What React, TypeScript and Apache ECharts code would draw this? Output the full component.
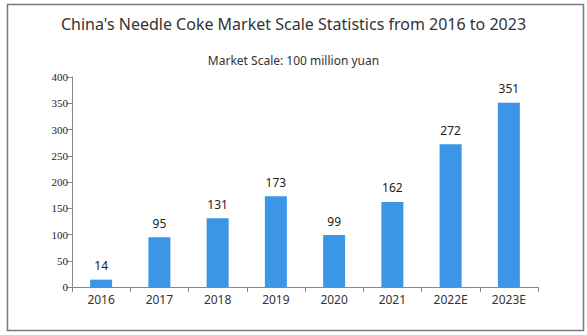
import React, { useEffect, useRef } from "react";
import * as echarts from "echarts";

const categories = ["2016", "2017", "2018", "2019", "2020", "2021", "2022E", "2023E"];
const marketScale = [14, 95, 131, 173, 99, 162, 272, 351];
const titleText = "China's Needle Coke Market Scale Statistics from 2016 to 2023";
const subtitleText = "Market Scale: 100 million yuan";

export default function App() {
  const ref = useRef<HTMLDivElement>(null);
  useEffect(() => {
    if (!ref.current) return;
    const chart = echarts.init(ref.current, undefined, { renderer: "svg" });
    chart.setOption({
      animation: false,
      backgroundColor: "#ffffff",
      graphic: [
        {
          type: "rect",
          shape: { x: 7.5, y: 4.5, width: 576, height: 326 },
          style: { fill: "none", stroke: "#7a7a7a", lineWidth: 1.5 },
          silent: true,
        },
      ],
      title: [
        {
          text: titleText,
          left: "center",
          top: 11,
          textStyle: { fontSize: 16, fontWeight: "normal", color: "#333", fontFamily: "Noto Sans" },
        },
        {
          text: subtitleText,
          left: "center",
          top: 49,
          textStyle: { fontSize: 12, fontWeight: "normal", color: "#333", fontFamily: "Noto Sans" },
        },
      ],
      grid: { left: 72, right: 49, top: 77, bottom: 48 },
      xAxis: {
        type: "category",
        data: categories,
        axisLine: { lineStyle: { color: "#888" } },
        axisTick: { show: true, alignWithLabel: false, lineStyle: { color: "#888" } },
        axisLabel: { color: "#333", fontSize: 12, fontFamily: "Noto Sans", margin: 6 },
      },
      yAxis: {
        type: "value",
        min: 0,
        max: 400,
        interval: 50,
        axisLine: { show: true, lineStyle: { color: "#888" } },
        axisTick: { show: true, lineStyle: { color: "#888" } },
        splitLine: { show: false },
        axisLabel: { color: "#222", fontSize: 11, fontFamily: "Liberation Serif", margin: 4 },
      },
      series: [
        {
          type: "bar",
          data: marketScale,
          barWidth: 22,
          itemStyle: { color: "#3c96e8" },
          label: {
            show: true,
            position: "top",
            distance: 8,
            color: "#222",
            fontSize: 12,
            fontFamily: "Noto Sans",
          },
        },
      ],
    });
    return () => chart.dispose();
  }, []);
  return (
    <div
      ref={ref}
      style={{ position: "fixed", left: 0, top: 0, width: 587, height: 335 }}
    />
  );
}
